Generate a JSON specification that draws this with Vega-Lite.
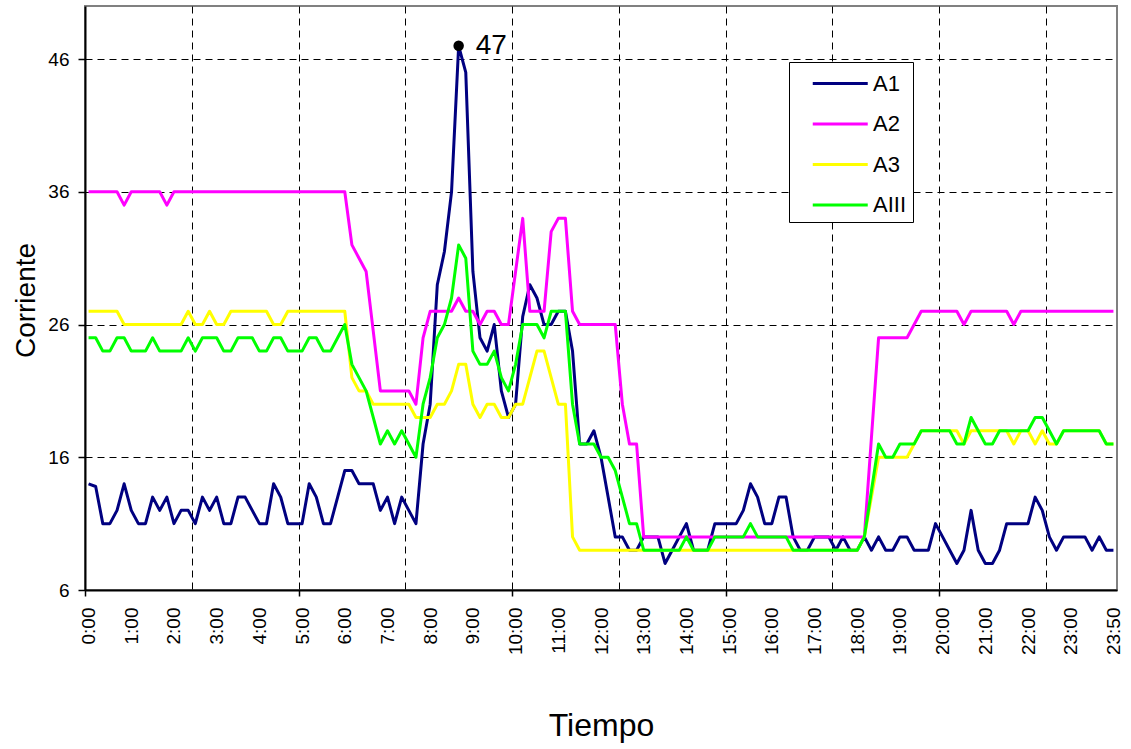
{
  "$schema": "https://vega.github.io/schema/vega-lite/v6.json",
  "width": 1032,
  "height": 584,
  "autosize": {"type": "none"},
  "padding": {"left": 85, "top": 6, "right": 14, "bottom": 159},
  "background": "white",
  "config": {
    "font": "Liberation Sans",
    "view": {"stroke": "#808080", "strokeWidth": 2}
  },
  "datasets": {
    "d": [
      {"i":0,"A1":14,"A2":36,"A3":27,"AIII":25},
      {"i":1,"A1":13.8,"A2":36,"A3":27,"AIII":25},
      {"i":2,"A1":11,"A2":36,"A3":27,"AIII":24},
      {"i":3,"A1":11,"A2":36,"A3":27,"AIII":24},
      {"i":4,"A1":12,"A2":36,"A3":27,"AIII":25},
      {"i":5,"A1":14,"A2":35,"A3":26,"AIII":25},
      {"i":6,"A1":12,"A2":36,"A3":26,"AIII":24},
      {"i":7,"A1":11,"A2":36,"A3":26,"AIII":24},
      {"i":8,"A1":11,"A2":36,"A3":26,"AIII":24},
      {"i":9,"A1":13,"A2":36,"A3":26,"AIII":25},
      {"i":10,"A1":12,"A2":36,"A3":26,"AIII":24},
      {"i":11,"A1":13,"A2":35,"A3":26,"AIII":24},
      {"i":12,"A1":11,"A2":36,"A3":26,"AIII":24},
      {"i":13,"A1":12,"A2":36,"A3":26,"AIII":24},
      {"i":14,"A1":12,"A2":36,"A3":27,"AIII":25},
      {"i":15,"A1":11,"A2":36,"A3":26,"AIII":24},
      {"i":16,"A1":13,"A2":36,"A3":26,"AIII":25},
      {"i":17,"A1":12,"A2":36,"A3":27,"AIII":25},
      {"i":18,"A1":13,"A2":36,"A3":26,"AIII":25},
      {"i":19,"A1":11,"A2":36,"A3":26,"AIII":24},
      {"i":20,"A1":11,"A2":36,"A3":27,"AIII":24},
      {"i":21,"A1":13,"A2":36,"A3":27,"AIII":25},
      {"i":22,"A1":13,"A2":36,"A3":27,"AIII":25},
      {"i":23,"A1":12,"A2":36,"A3":27,"AIII":25},
      {"i":24,"A1":11,"A2":36,"A3":27,"AIII":24},
      {"i":25,"A1":11,"A2":36,"A3":27,"AIII":24},
      {"i":26,"A1":14,"A2":36,"A3":26,"AIII":25},
      {"i":27,"A1":13,"A2":36,"A3":26,"AIII":25},
      {"i":28,"A1":11,"A2":36,"A3":27,"AIII":24},
      {"i":29,"A1":11,"A2":36,"A3":27,"AIII":24},
      {"i":30,"A1":11,"A2":36,"A3":27,"AIII":24},
      {"i":31,"A1":14,"A2":36,"A3":27,"AIII":25},
      {"i":32,"A1":13,"A2":36,"A3":27,"AIII":25},
      {"i":33,"A1":11,"A2":36,"A3":27,"AIII":24},
      {"i":34,"A1":11,"A2":36,"A3":27,"AIII":24},
      {"i":35,"A1":13,"A2":36,"A3":27,"AIII":25},
      {"i":36,"A1":15,"A2":36,"A3":27,"AIII":26},
      {"i":37,"A1":15,"A2":32,"A3":22,"AIII":23},
      {"i":38,"A1":14,"A2":31,"A3":21,"AIII":22},
      {"i":39,"A1":14,"A2":30,"A3":21,"AIII":21},
      {"i":40,"A1":14,"A2":25.5,"A3":20,"AIII":19},
      {"i":41,"A1":12,"A2":21,"A3":20,"AIII":17},
      {"i":42,"A1":13,"A2":21,"A3":20,"AIII":18},
      {"i":43,"A1":11,"A2":21,"A3":20,"AIII":17},
      {"i":44,"A1":13,"A2":21,"A3":20,"AIII":18},
      {"i":45,"A1":12,"A2":21,"A3":20,"AIII":17},
      {"i":46,"A1":11,"A2":20,"A3":19,"AIII":16},
      {"i":47,"A1":17,"A2":25,"A3":19,"AIII":20},
      {"i":48,"A1":20,"A2":27,"A3":19,"AIII":22},
      {"i":49,"A1":29,"A2":27,"A3":20,"AIII":25},
      {"i":50,"A1":31.5,"A2":27,"A3":20,"AIII":26},
      {"i":51,"A1":36,"A2":27,"A3":21,"AIII":28},
      {"i":52,"A1":47,"A2":28,"A3":23,"AIII":32},
      {"i":53,"A1":45,"A2":27,"A3":23,"AIII":31},
      {"i":54,"A1":30,"A2":27,"A3":20,"AIII":24},
      {"i":55,"A1":25,"A2":26,"A3":19,"AIII":23},
      {"i":56,"A1":24,"A2":27,"A3":20,"AIII":23},
      {"i":57,"A1":26,"A2":27,"A3":20,"AIII":24},
      {"i":58,"A1":21,"A2":26,"A3":19,"AIII":22},
      {"i":59,"A1":19,"A2":26,"A3":19,"AIII":21},
      {"i":60,"A1":20,"A2":30,"A3":20,"AIII":23},
      {"i":61,"A1":26.6,"A2":34,"A3":20,"AIII":26},
      {"i":62,"A1":29,"A2":27,"A3":22,"AIII":26},
      {"i":63,"A1":28,"A2":27,"A3":24,"AIII":26},
      {"i":64,"A1":26,"A2":27,"A3":24,"AIII":25},
      {"i":65,"A1":26,"A2":33,"A3":22,"AIII":27},
      {"i":66,"A1":27,"A2":34,"A3":20,"AIII":27},
      {"i":67,"A1":27,"A2":34,"A3":20,"AIII":27},
      {"i":68,"A1":24,"A2":27,"A3":10,"AIII":20},
      {"i":69,"A1":17,"A2":26,"A3":9,"AIII":17},
      {"i":70,"A1":17,"A2":26,"A3":9,"AIII":17},
      {"i":71,"A1":18,"A2":26,"A3":9,"AIII":17},
      {"i":72,"A1":16,"A2":26,"A3":9,"AIII":16},
      {"i":73,"A1":13,"A2":26,"A3":9,"AIII":16},
      {"i":74,"A1":10,"A2":26,"A3":9,"AIII":15},
      {"i":75,"A1":10,"A2":20,"A3":9,"AIII":13},
      {"i":76,"A1":9,"A2":17,"A3":9,"AIII":11},
      {"i":77,"A1":9,"A2":17,"A3":9,"AIII":11},
      {"i":78,"A1":10,"A2":10,"A3":9,"AIII":9},
      {"i":79,"A1":10,"A2":10,"A3":9,"AIII":9},
      {"i":80,"A1":10,"A2":10,"A3":9,"AIII":9},
      {"i":81,"A1":8,"A2":10,"A3":9,"AIII":9},
      {"i":82,"A1":9,"A2":10,"A3":9,"AIII":9},
      {"i":83,"A1":10,"A2":10,"A3":9,"AIII":9},
      {"i":84,"A1":11,"A2":10,"A3":9,"AIII":10},
      {"i":85,"A1":9,"A2":10,"A3":9,"AIII":9},
      {"i":86,"A1":9,"A2":10,"A3":9,"AIII":9},
      {"i":87,"A1":9,"A2":10,"A3":9,"AIII":9},
      {"i":88,"A1":11,"A2":10,"A3":9,"AIII":10},
      {"i":89,"A1":11,"A2":10,"A3":9,"AIII":10},
      {"i":90,"A1":11,"A2":10,"A3":9,"AIII":10},
      {"i":91,"A1":11,"A2":10,"A3":9,"AIII":10},
      {"i":92,"A1":12,"A2":10,"A3":9,"AIII":10},
      {"i":93,"A1":14,"A2":10,"A3":9,"AIII":11},
      {"i":94,"A1":13,"A2":10,"A3":9,"AIII":10},
      {"i":95,"A1":11,"A2":10,"A3":9,"AIII":10},
      {"i":96,"A1":11,"A2":10,"A3":9,"AIII":10},
      {"i":97,"A1":13,"A2":10,"A3":9,"AIII":10},
      {"i":98,"A1":13,"A2":10,"A3":9,"AIII":10},
      {"i":99,"A1":10,"A2":10,"A3":9,"AIII":9},
      {"i":100,"A1":9,"A2":10,"A3":9,"AIII":9},
      {"i":101,"A1":9,"A2":10,"A3":9,"AIII":9},
      {"i":102,"A1":10,"A2":10,"A3":9,"AIII":9},
      {"i":103,"A1":10,"A2":10,"A3":9,"AIII":9},
      {"i":104,"A1":10,"A2":10,"A3":9,"AIII":9},
      {"i":105,"A1":9,"A2":10,"A3":9,"AIII":9},
      {"i":106,"A1":10,"A2":10,"A3":9,"AIII":9},
      {"i":107,"A1":9,"A2":10,"A3":9,"AIII":9},
      {"i":108,"A1":9,"A2":10,"A3":9,"AIII":9},
      {"i":109,"A1":10,"A2":10,"A3":10,"AIII":10},
      {"i":110,"A1":9,"A2":17.5,"A3":13,"AIII":13.5},
      {"i":111,"A1":10,"A2":25,"A3":16,"AIII":17},
      {"i":112,"A1":9,"A2":25,"A3":16,"AIII":16},
      {"i":113,"A1":9,"A2":25,"A3":16,"AIII":16},
      {"i":114,"A1":10,"A2":25,"A3":16,"AIII":17},
      {"i":115,"A1":10,"A2":25,"A3":16,"AIII":17},
      {"i":116,"A1":9,"A2":26,"A3":17,"AIII":17},
      {"i":117,"A1":9,"A2":27,"A3":18,"AIII":18},
      {"i":118,"A1":9,"A2":27,"A3":18,"AIII":18},
      {"i":119,"A1":11,"A2":27,"A3":18,"AIII":18},
      {"i":120,"A1":10,"A2":27,"A3":18,"AIII":18},
      {"i":121,"A1":9,"A2":27,"A3":18,"AIII":18},
      {"i":122,"A1":8,"A2":27,"A3":18,"AIII":17},
      {"i":123,"A1":9,"A2":26,"A3":17,"AIII":17},
      {"i":124,"A1":12,"A2":27,"A3":18,"AIII":19},
      {"i":125,"A1":9,"A2":27,"A3":18,"AIII":18},
      {"i":126,"A1":8,"A2":27,"A3":18,"AIII":17},
      {"i":127,"A1":8,"A2":27,"A3":18,"AIII":17},
      {"i":128,"A1":9,"A2":27,"A3":18,"AIII":18},
      {"i":129,"A1":11,"A2":27,"A3":18,"AIII":18},
      {"i":130,"A1":11,"A2":26,"A3":17,"AIII":18},
      {"i":131,"A1":11,"A2":27,"A3":18,"AIII":18},
      {"i":132,"A1":11,"A2":27,"A3":18,"AIII":18},
      {"i":133,"A1":13,"A2":27,"A3":17,"AIII":19},
      {"i":134,"A1":12,"A2":27,"A3":18,"AIII":19},
      {"i":135,"A1":10,"A2":27,"A3":17,"AIII":18},
      {"i":136,"A1":9,"A2":27,"A3":17,"AIII":17},
      {"i":137,"A1":10,"A2":27,"A3":18,"AIII":18},
      {"i":138,"A1":10,"A2":27,"A3":18,"AIII":18},
      {"i":139,"A1":10,"A2":27,"A3":18,"AIII":18},
      {"i":140,"A1":10,"A2":27,"A3":18,"AIII":18},
      {"i":141,"A1":9,"A2":27,"A3":18,"AIII":18},
      {"i":142,"A1":10,"A2":27,"A3":18,"AIII":18},
      {"i":143,"A1":9,"A2":27,"A3":17,"AIII":17},
      {"i":144,"A1":9,"A2":27,"A3":17,"AIII":17}
    ]
  },
  "data": {"name": "d"},
  "transform": [{"fold": ["A1", "A2", "A3", "AIII"], "as": ["serie", "corriente"]}],
  "resolve": {"axis": {"x": "independent", "y": "independent"}},
  "layer": [
    {
      "mark": {"type": "line", "strokeWidth": 3, "strokeJoin": "round"},
      "encoding": {
        "x": {
          "field": "i", "type": "quantitative", "title": "Tiempo",
          "scale": {"domain": [-0.5, 144.5], "nice": false, "zero": false},
          "axis": {
            "values": [-0.5, 0, 6, 12, 14.5, 18, 24, 29.5, 30, 36, 42, 44.5, 48, 54, 59.5, 60, 66, 72, 74.5, 78, 84, 89.5, 90, 96, 102, 104.5, 108, 114, 119.5, 120, 126, 132, 134.5, 138, 144],
            "labelExpr": "datum.value % 6 == 0 ? (datum.value == 144 ? '23:50' : floor(datum.value / 6) + ':00') : ''",
            "labelAngle": 270,
            "labelAlign": "right",
            "labelBaseline": "middle",
            "labelFontSize": 19,
            "labelColor": "black",
            "labelPadding": 11,
            "labelOverlap": false,
            "labelBound": false,
            "labelFlush": false,
            "tickSize": 6,
            "tickColor": "black",
            "tickWidth": 1.5,
            "tickOpacity": {"condition": {"test": "(datum.value + 0.5) % 30 == 0", "value": 1}, "value": 0},
            "grid": true,
            "gridColor": "black",
            "gridDash": [7, 5],
            "gridWidth": 1,
            "gridOpacity": {"condition": {"test": "datum.value > 0 && (datum.value + 0.5) % 15 == 0", "value": 1}, "value": 0},
            "domainColor": "black",
            "domainWidth": 2,
            "titleFontSize": 32,
            "titleFontWeight": "normal",
            "titleColor": "black",
            "titleY": 145,
            "titleBaseline": "alphabetic"
          }
        },
        "y": {
          "field": "corriente", "type": "quantitative", "title": "Corriente",
          "scale": {"domain": [6, 50], "nice": false, "zero": false},
          "axis": {
            "values": [6, 16, 26, 36, 46],
            "labelFontSize": 19,
            "labelColor": "black",
            "labelPadding": 9,
            "tickSize": 7,
            "tickColor": "black",
            "tickWidth": 1.5,
            "grid": true,
            "gridColor": "black",
            "gridDash": [7, 5],
            "gridWidth": 1,
            "domainColor": "black",
            "domainWidth": 2,
            "titleFontSize": 28,
            "titleFontWeight": "normal",
            "titleColor": "black",
            "titleAngle": 270,
            "titleAlign": "center",
            "titleBaseline": "alphabetic",
            "titleX": -51,
            "titleY": 294
          }
        },
        "color": {
          "field": "serie", "type": "nominal",
          "scale": {"domain": ["A1", "A2", "A3", "AIII"], "range": ["#000080", "#FF00FF", "#FFFF00", "#00FF00"]},
          "legend": {
            "title": null,
            "orient": "none",
            "legendX": 704,
            "legendY": 56,
            "strokeColor": "black",
            "fillColor": "white",
            "padding": 6,
            "symbolType": "M-1,0H3",
            "symbolSize": 756,
            "symbolStrokeWidth": 3,
            "symbolOffset": 16,
            "labelFontSize": 22,
            "labelColor": "black",
            "labelOffset": 31,
            "labelExpr": "datum.label + '\u00a0\u00a0'",
            "rowPadding": 13.5
          }
        }
      }
    },
    {
      "transform": [{"filter": "datum.serie == 'A1' && datum.i == 52"}],
      "mark": {"type": "point", "filled": true, "color": "black", "size": 110, "opacity": 1},
      "encoding": {
        "x": {"field": "i", "type": "quantitative", "axis": null},
        "y": {"field": "corriente", "type": "quantitative", "axis": null}
      }
    },
    {
      "transform": [{"filter": "datum.serie == 'A1' && datum.i == 52"}],
      "mark": {"type": "text", "align": "left", "baseline": "middle", "dx": 17, "fontSize": 28, "color": "black"},
      "encoding": {
        "x": {"field": "i", "type": "quantitative", "axis": null},
        "y": {"field": "corriente", "type": "quantitative", "axis": null},
        "text": {"field": "corriente", "type": "quantitative"}
      }
    }
  ]
}
